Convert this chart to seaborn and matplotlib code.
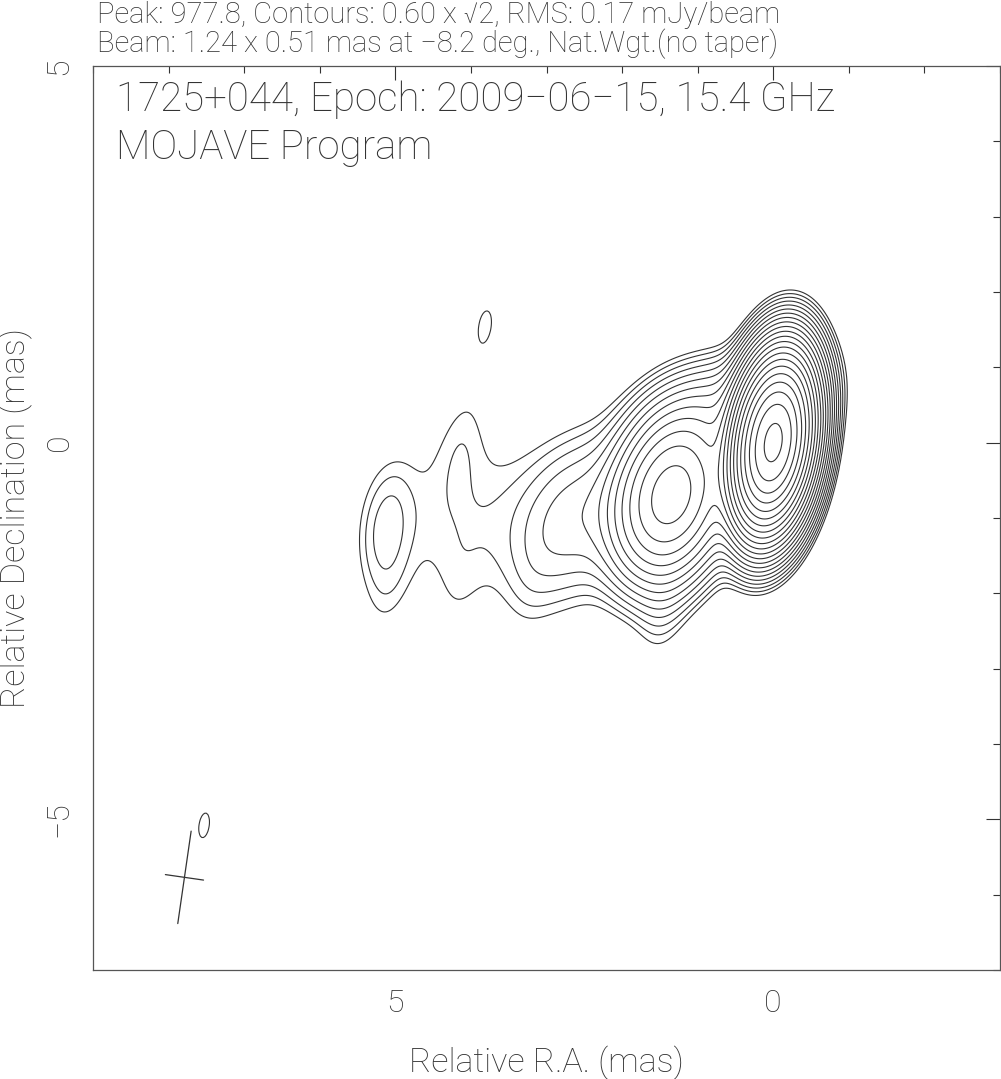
import numpy as np
import matplotlib
matplotlib.use("Agg")
import matplotlib.pyplot as plt
import seaborn as sns

# ---------------- data ----------------
# Gaussian components of the (beam-convolved) image
comp_x    = [0.00, 1.35, 2.65, 4.00, 5.13, 4.12, 3.20, 4.17, 5.10, 0.60, 1.45, 3.81, 7.53]
comp_y    = [0.00, -0.70, -1.00, -1.00, -1.10, 0.05, -1.85, -2.00, -1.95, 0.45, -2.10, 1.57, -5.08]
comp_peak = [975.0, 47.0, 2.6, 0.78, 1.0, 0.45, 0.25, 0.25, 0.45, 5.0, 0.8, 0.63, 0.63]
comp_maj  = [1.25, 1.40, 1.60, 2.40, 1.24, 1.24, 1.24, 1.24, 1.24, 1.60, 1.24, 1.24, 1.24]
comp_min  = [0.56, 0.90, 1.00, 2.00, 0.51, 0.51, 0.51, 0.51, 0.51, 0.90, 0.51, 0.51, 0.51]
comp_pa   = [-8.0, -15.0, -20.0, 90.0, -8.2, -8.2, -8.2, -8.2, -8.2, 110.0, -8.2, -8.2, -8.2]

peak_flux = 977.8
base_level = 0.60
level_factor = np.sqrt(2)
n_levels = 22

beam_maj, beam_min, beam_pa = 1.24, 0.51, -8.2
beam_center = (7.79, -5.77)

x_range = (9.0, -3.0)
y_range = (-7.0, 5.0)

title1 = "Peak: 977.8, Contours: 0.60 x \u221a2, RMS: 0.17 mJy/beam"
title2 = "Beam: 1.24 x 0.51 mas at \u22128.2 deg., Nat.Wgt.(no taper)"
label1 = "1725+044, Epoch: 2009\u221206\u221215, 15.4 GHz"
label2 = "MOJAVE Program"

# ---------------- model image ----------------
gx = np.linspace(min(x_range), max(x_range), 601)
gy = np.linspace(min(y_range), max(y_range), 601)
X, Y = np.meshgrid(gx, gy)
img = np.zeros_like(X)
for x0, y0, p, a, b, pa in zip(comp_x, comp_y, comp_peak, comp_maj, comp_min, comp_pa):
    t = np.deg2rad(pa)
    dx, dy = X - x0, Y - y0
    u = dx * np.sin(t) + dy * np.cos(t)
    v = dx * np.cos(t) - dy * np.sin(t)
    img += p * np.exp(-4 * np.log(2) * (u**2 / a**2 + v**2 / b**2))

levels = base_level * level_factor ** np.arange(n_levels)
levels = levels[levels < img.max()]

# ---------------- plot ----------------
sns.set_style("white")
plt.rcParams['font.family'] = ['Roboto', 'DejaVu Sans']
plt.rcParams['font.weight'] = 'light'
ink = '#333333'

fig = plt.figure(figsize=(10.01, 10.79), dpi=100)
ax = fig.add_axes([93/1001, 1 - 970/1079, 907/1001, 904/1079])

ax.contour(X, Y, img, levels=levels, colors=ink, linewidths=0.8)

# beam cross
t = np.deg2rad(beam_pa)
cx, cy = beam_center
ax.plot([cx - 0.5*beam_maj*np.sin(t), cx + 0.5*beam_maj*np.sin(t)],
        [cy - 0.5*beam_maj*np.cos(t), cy + 0.5*beam_maj*np.cos(t)], color=ink, lw=0.9)
ax.plot([cx - 0.5*beam_min*np.cos(t), cx + 0.5*beam_min*np.cos(t)],
        [cy + 0.5*beam_min*np.sin(t), cy - 0.5*beam_min*np.sin(t)], color=ink, lw=0.9)

ax.set_xlim(*x_range)
ax.set_ylim(*y_range)

ax.set_xticks([5, 0])
ax.set_xticklabels(["5", "0"])
ax.set_xticks(np.arange(-3, 10, 1), minor=True)
ax.set_yticks([5, 0, -5])
ax.set_yticklabels(["5", "0", "\u22125"], rotation=90, va='center')
ax.set_yticks(np.arange(-7, 6, 1), minor=True)
ax.tick_params(which='both', direction='in', top=True, right=True, colors=ink,
               labelsize=23, labelcolor=ink)
ax.tick_params(which='major', length=10, width=0.8, pad=14)
ax.tick_params(which='minor', length=5, width=0.8)
for s in ax.spines.values():
    s.set_color('#555555')
    s.set_linewidth(0.9)

ax.set_xlabel("Relative R.A. (mas)", fontsize=24.5, color=ink, labelpad=20, fontweight='light')
ax.set_ylabel("Relative Declination (mas)", fontsize=24.5, color=ink, labelpad=8, fontweight='light')

fig.text(97/1001, 1 - 15/1079, title1, fontsize=21, color=ink, va='center', ha='left')
fig.text(97/1001, 1 - 44/1079, title2, fontsize=21, color=ink, va='center', ha='left')
ax.text(0.025, 0.963, label1, transform=ax.transAxes, fontsize=29, color=ink, va='center', ha='left')
ax.text(0.025, 0.91, label2, transform=ax.transAxes, fontsize=29, color=ink, va='center', ha='left')

fig.savefig("out.png", dpi=100)
